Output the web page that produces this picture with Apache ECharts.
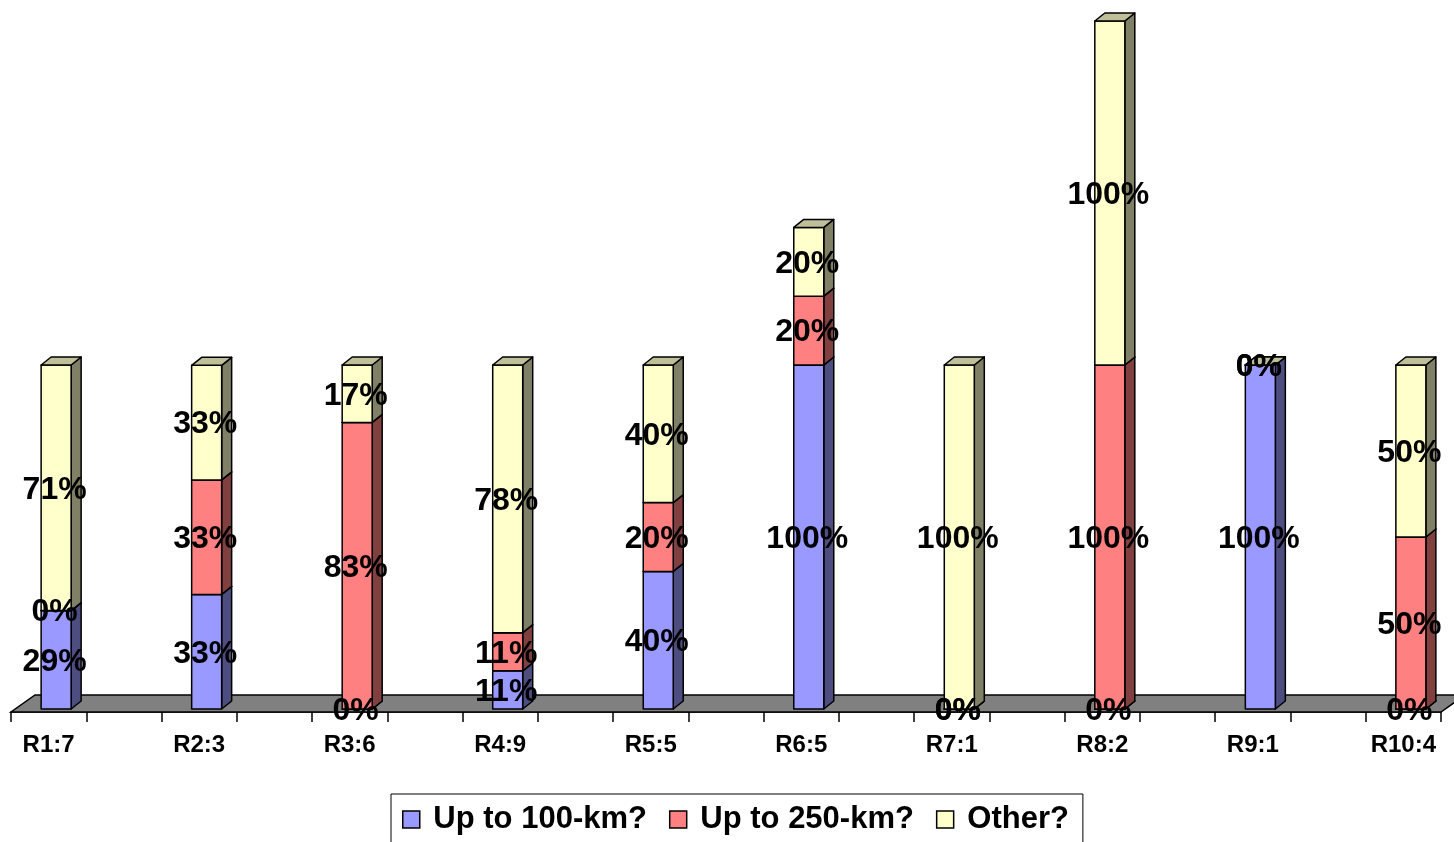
<!DOCTYPE html>
<html>
<head>
<meta charset="utf-8">
<script src="https://cdn.jsdelivr.net/npm/echarts@6/dist/echarts.min.js"></script>
<style>
html,body{margin:0;padding:0;background:#fff;}
#chart{width:1454px;height:842px;}
</style>
</head>
<body>
<div id="chart"></div>
<script>
// ---- data ----
const categories = ['R1:7','R2:3','R3:6','R4:9','R5:5','R6:5','R7:1','R8:2','R9:1','R10:4'];
const seriesNames = ['Up to 100-km?','Up to 250-km?','Other?'];
const upTo100 = [28.6, 33.3, 0, 11.1, 40, 100, 0, 0, 100, 0];
const upTo250 = [0, 33.3, 83.3, 11.1, 20, 20, 0, 100, 0, 50];
const other   = [71.4, 33.3, 16.7, 77.8, 40, 20, 100, 100, 0, 50];

// ---- styling ----
const FONT = "'Liberation Sans', Arial, sans-serif";
const palette = [
  {front:'#9999FF', side:'#4D4D80', top:'#7373BF'},
  {front:'#FF8080', side:'#804040', top:'#BF6060'},
  {front:'#FFFFCC', side:'#808066', top:'#BFBF99'}
];
const BAR_W = 30, OFF_X = 7.5, OFF_Y = -3, DEPTH_X = 10, DEPTH_Y = 8;
const FLOOR_DX = 24, FLOOR_DY = 17;

// axis slots: each category followed by a blank slot
const axisSlots = [];
categories.forEach((c, i) => { axisSlots.push(c); if (i < categories.length - 1) axisSlots.push(''); });

const valueLists = [upTo100, upTo250, other];
const stacked = valueLists.map(() => []);
categories.forEach((c, i) => {
  let base = 0;
  valueLists.forEach((vals, s) => {
    const v = vals[i];
    stacked[s].push([2 * i, base, base + v, v]);
    base += v;
  });
});

function barRenderer(col) {
  return function (params, api) {
    const xi = api.value(0), lo = api.value(1), hi = api.value(2), v = api.value(3);
    const p0 = api.coord([xi, lo]);
    const p1 = api.coord([xi, hi]);
    const L = p0[0] + OFF_X - BAR_W / 2, R = L + BAR_W;
    const yb = p0[1] + OFF_Y, yt = p1[1] + OFF_Y;
    const stroke = {stroke:'#000', lineWidth:1.5, lineJoin:'round'};
    return {
      type: 'group',
      children: [
        {type:'polygon', shape:{points:[[R,yb],[R+DEPTH_X,yb-DEPTH_Y],[R+DEPTH_X,yt-DEPTH_Y],[R,yt]]},
         style:Object.assign({fill:col.side}, stroke)},
        {type:'rect', shape:{x:L, y:yt, width:BAR_W, height:yb-yt},
         style:Object.assign({fill:col.front}, stroke)},
        {type:'polygon', shape:{points:[[L,yt],[R,yt],[R+DEPTH_X,yt-DEPTH_Y],[L+DEPTH_X,yt-DEPTH_Y]]},
         style:Object.assign({fill:col.top}, stroke)},
        {type:'text', z2:100,
         style:{text: Math.round(v) + '%', x:(L+R)/2 - 1.5, y:(yt+yb)/2 + 2,
                align:'center', verticalAlign:'middle',
                fontSize:32, fontWeight:'bold', fontFamily:FONT, fill:'#000'}}
      ]
    };
  };
}

const series = [{
  name: 'floor',
  type: 'custom',
  z: 1,
  silent: true,
  data: [[0, 0]],
  renderItem: function (params, api) {
    const cs = params.coordSys;
    const yb = cs.y + cs.height, x0 = cs.x, x1 = cs.x + cs.width;
    return {
      type: 'polygon',
      shape: {points: [[x0, yb], [x1, yb], [x1 + FLOOR_DX, yb - FLOOR_DY], [x0 + FLOOR_DX, yb - FLOOR_DY]]},
      style: {fill: '#808080', stroke: '#000', lineWidth: 1.5}
    };
  }
}];
seriesNames.forEach((name, s) => {
  series.push({
    name: name,
    type: 'custom',
    z: 2,
    itemStyle: {color: palette[s].front},
    data: stacked[s],
    encode: {x: 0, y: [1, 2]},
    renderItem: barRenderer(palette[s])
  });
});

const chart = echarts.init(document.getElementById('chart'), null, {renderer: 'canvas'});
chart.setOption({
  animation: false,
  backgroundColor: '#fff',
  grid: {left: 11, right: 13, top: 24, bottom: 130, containLabel: false},
  xAxis: {
    type: 'category',
    data: axisSlots,
    boundaryGap: true,
    axisLine: {show: true, lineStyle: {color: '#000', width: 1.5}},
    axisTick: {show: true, interval: 0, length: 10, lineStyle: {color: '#000', width: 1.5}},
    axisLabel: {interval: 0, margin: 21, color: '#000', fontSize: 24, fontWeight: 'bold', fontFamily: FONT},
    splitLine: {show: false}
  },
  yAxis: {
    type: 'value', min: 0, max: 200, interval: 50,
    show: false, splitLine: {show: false}
  },
  legend: {
    left: 391, top: 794,
    data: seriesNames.map((n, s) => ({name: n, icon: 'rect',
      itemStyle: {color: palette[s].front, borderColor: '#000', borderWidth: 1.5}})),
    itemWidth: 17, itemHeight: 17, itemGap: 22,
    padding: [10, 14, 16, 11],
    borderColor: '#000', borderWidth: 1,
    formatter: n => ' ' + n,
    textStyle: {fontSize: 31, fontWeight: 'bold', fontFamily: FONT, color: '#000', lineHeight: 31},
    selectedMode: false
  },
  series: series
});
</script>
</body>
</html>
